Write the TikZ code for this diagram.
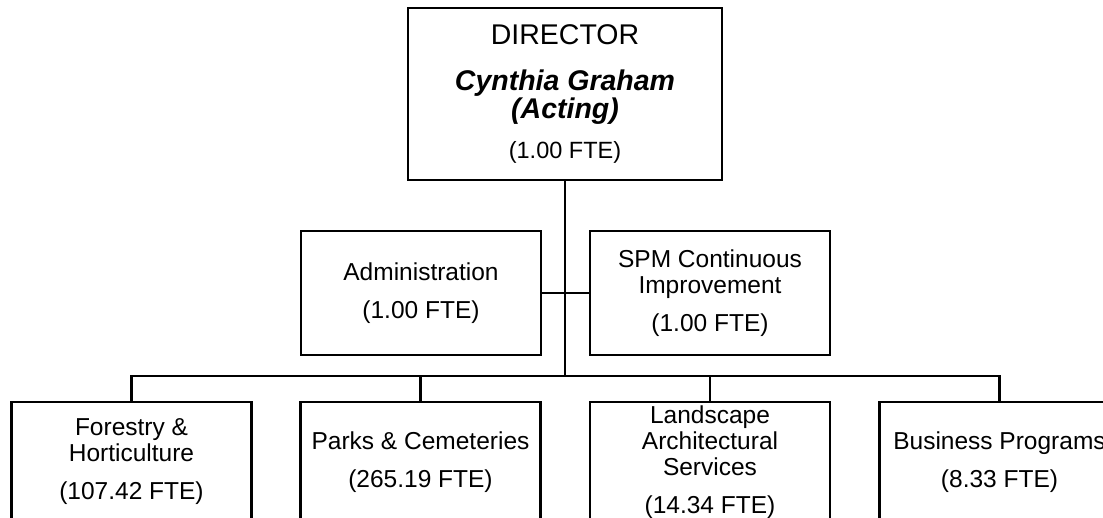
\documentclass[tikz,border=0pt]{standalone}
\usepackage{fontspec}
\setmainfont{Liberation Sans}
\usepackage{tikz}

\newcommand{\bossname}[1]{{\fontsize{28.5}{25}\selectfont\bfseries\itshape #1}}

\begin{document}
\begin{tikzpicture}[x=1pt, y=-1pt,
        unit/.style = {draw, line width=2.3pt, minimum width=240pt, minimum height=120pt,
          inner sep=0pt, align=center, font=\fontsize{24.5}{26}\selectfont},
        head/.style = {unit, minimum width=314pt, minimum height=172pt, font=\fontsize{23.5}{25}\selectfont},
        link/.style = {line width=2.6pt}]
        \useasboundingbox (0,0) rectangle (1103,518);
        \node[head] (dir) at (565,94) {{\fontsize{28.5}{25}\selectfont DIRECTOR}\\[21pt]
          \bossname{Cynthia Graham}\\ \bossname{(Acting)}\\[15pt] (1.00 FTE)};
        \node[unit, minimum height=124pt] (admin) at (421,293) {Administration\\[12pt](1.00 FTE)};
        \node[unit, minimum height=124pt] (spm) at (710,293) {SPM Continuous\\Improvement\\[12pt](1.00 FTE)};
        \node[unit] (forestry) at (131.5,462) {Forestry \&\\Horticulture\\[12pt](107.42 FTE)};
        \node[unit] (parks) at (420.5,462) {Parks \& Cemeteries\\[12pt](265.19 FTE)};
        \node[unit] (landscape) at (710,462) {Landscape\\Architectural\\Services\\[12pt](14.34 FTE)};
        \node[unit] (business) at (999.5,462) {Business Programs\\[12pt](8.33 FTE)};
        \coordinate (bus) at (565,376);
        \draw[link] (dir) -- (bus);
        \draw[link] (admin) -- (spm);
        \draw[link] (forestry.north) |- (bus);
        \draw[link] (parks.north) |- (bus);
        \draw[link] (landscape.north) |- (bus);
        \draw[link] (business.north) |- (bus);
      \end{tikzpicture}
\end{document}
